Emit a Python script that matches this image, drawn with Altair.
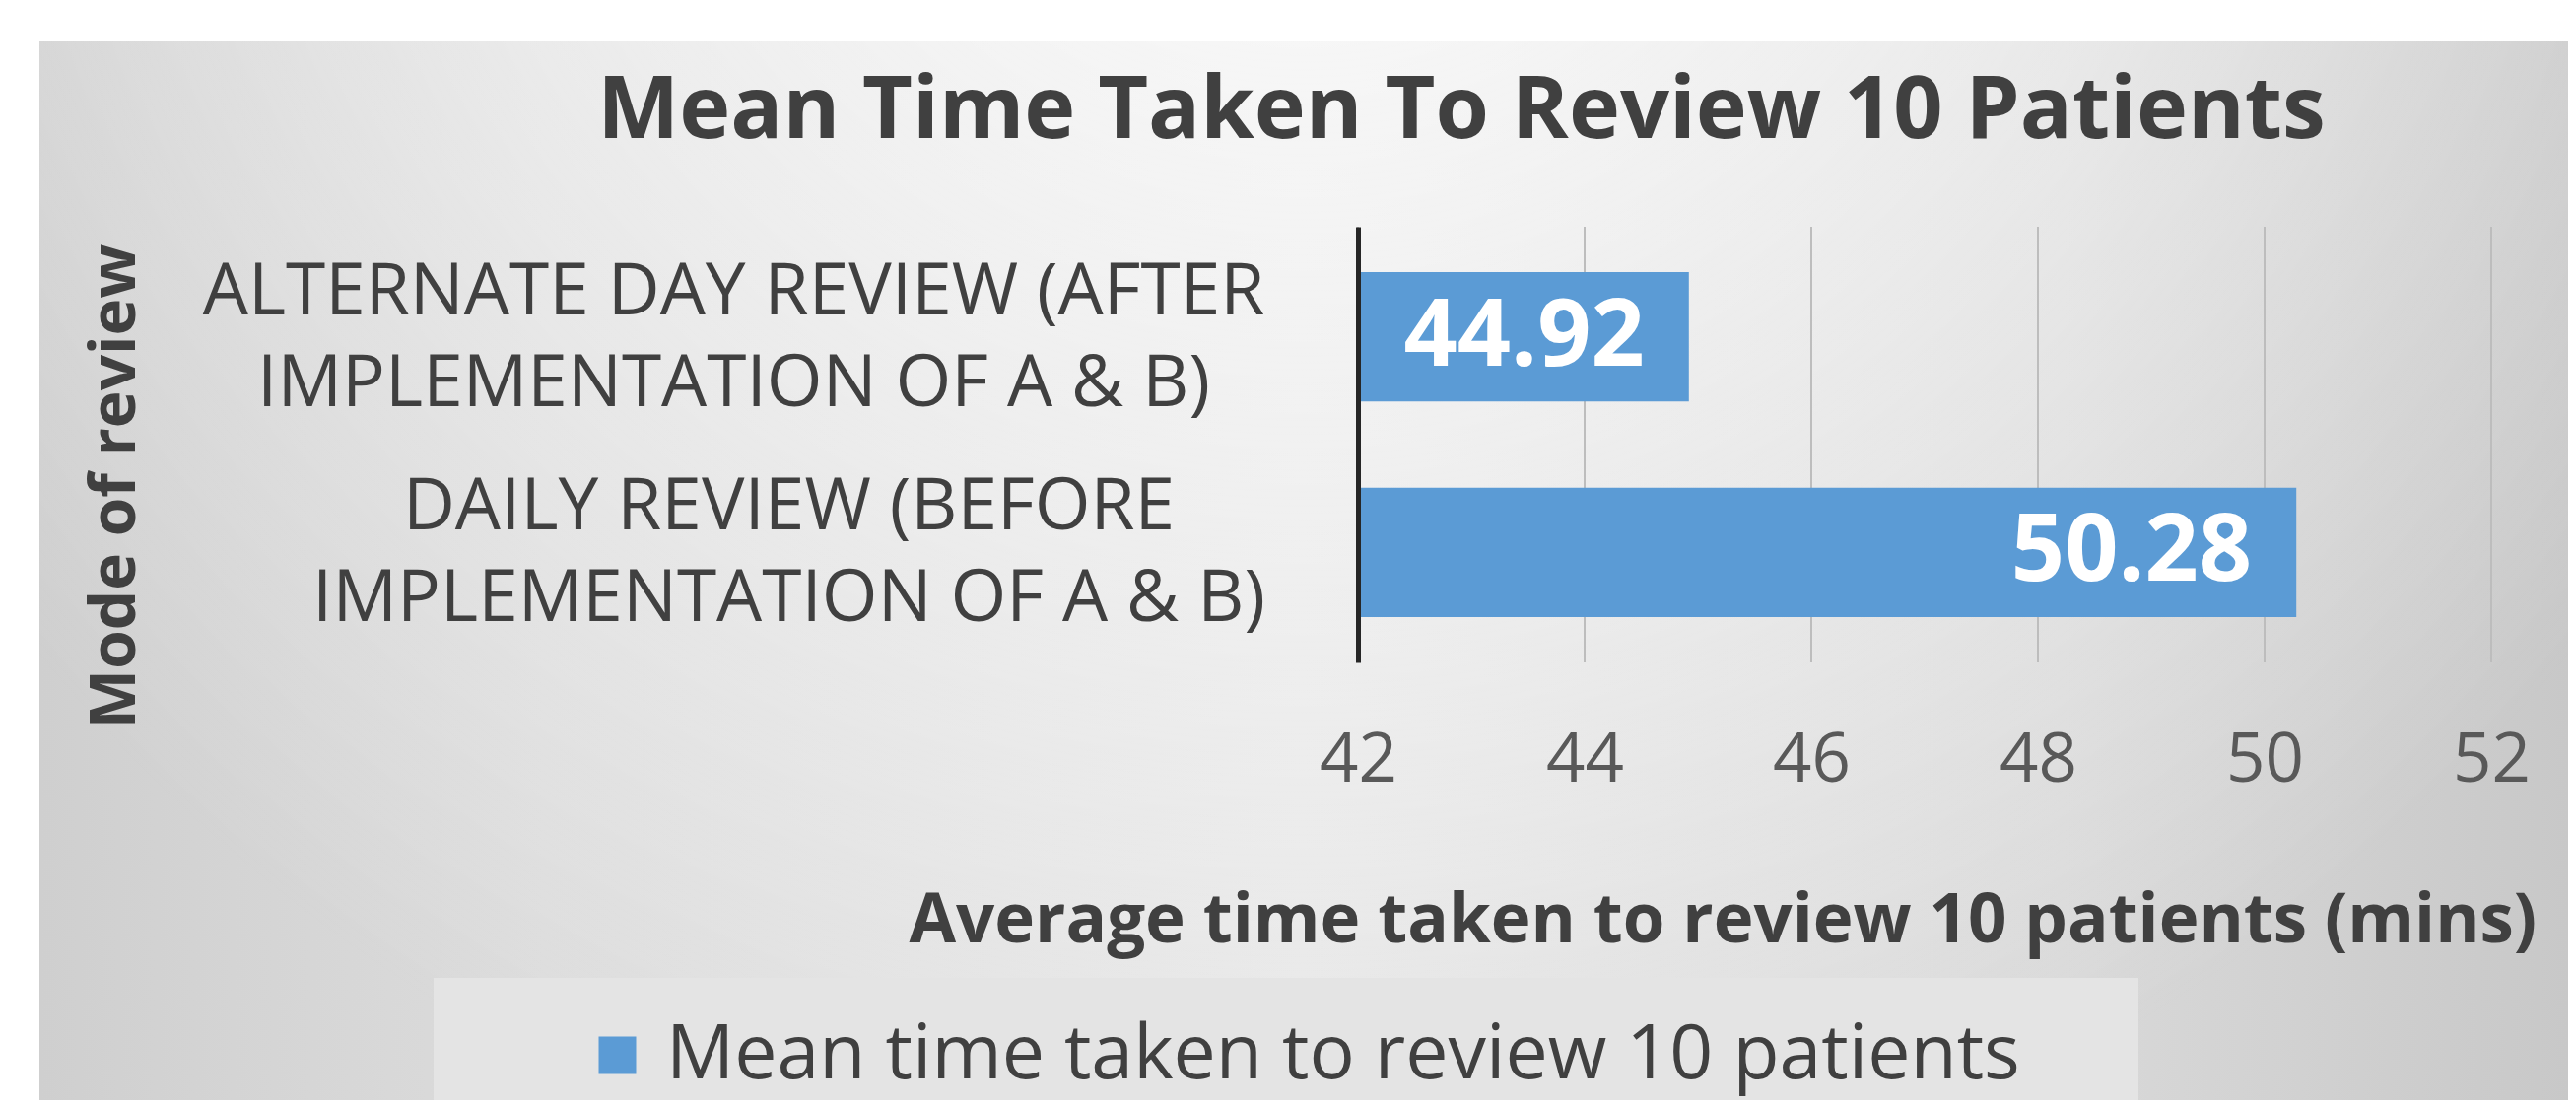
import json
import altair as alt
import pandas as pd

# ---- data ----
categories = [
    "ALTERNATE DAY REVIEW (AFTER\nIMPLEMENTATION OF A & B)",
    "DAILY REVIEW (BEFORE\nIMPLEMENTATION OF A & B)",
]
values = [44.92, 50.28]
series_name = "Mean time taken to review 10 patients"
x_ticks = [42, 44, 46, 48, 50, 52]
x_domain = [42, 52]

title_text = "Mean Time Taken To Review 10 Patients"
x_title = "Average time taken to review 10 patients (mins)"
y_title = "Mode of review"

df = pd.DataFrame({
    "mode": categories,
    "time": values,
    "series": [series_name] * len(categories),
})
grid_df = pd.DataFrame({"tick": x_ticks})
bg_df = pd.DataFrame({"bg": [0]})

FONT = "Open Sans"
BAR_COLOR = "#5b9bd5"
TEXT_DARK = "#404040"

# ---- background (Office-style gradient) ----
base_grad = alt.LinearGradient(
    gradient="linear", x1=0, y1=0, x2=1, y2=0,
    stops=[
        alt.GradientStop(offset=0, color="#cfcfcf"),
        alt.GradientStop(offset=0.2, color="#dcdcdc"),
        alt.GradientStop(offset=0.5, color="#e6e6e6"),
        alt.GradientStop(offset=0.8, color="#d9d9d9"),
        alt.GradientStop(offset=1, color="#c8c8c8"),
    ],
)
glow_grad = alt.RadialGradient(
    gradient="radial", x1=0.5, y1=0.12, r1=0, x2=0.5, y2=0.12, r2=0.65,
    stops=[
        alt.GradientStop(offset=0, color="rgba(255,255,255,0.9)"),
        alt.GradientStop(offset=0.5, color="rgba(255,255,255,0.45)"),
        alt.GradientStop(offset=1, color="rgba(255,255,255,0)"),
    ],
)
bg_enc = dict(x=alt.value(-1338), x2=alt.value(1228), y=alt.value(-188), y2=alt.value(886))
bg1 = alt.Chart(bg_df).mark_rect(fill=base_grad, strokeWidth=0).encode(**bg_enc)
bg2 = alt.Chart(bg_df).mark_rect(fill=glow_grad, strokeWidth=0).encode(**bg_enc)

# ---- axes ----
y_axis = alt.Axis(
    title=y_title,
    titleFont=FONT, titleFontSize=64, titleFontWeight="bold", titleColor=TEXT_DARK,
    titleAngle=270, titleX=-1261, titleY=263, titleAlign="center", titleBaseline="middle",
    labelExpr="split(datum.label, '\\n')",
    labelFont=FONT, labelFontSize=73, labelColor=TEXT_DARK,
    labelAlign="center", labelBaseline="middle", labelLineHeight=93, labelLimit=3000,
    labelOffset=-45,
    labelPadding={"condition": {"test": f"datum.value == {json.dumps(categories[0])}", "value": 634},
                  "value": 578},
    ticks=False, tickSize=0,
    domain=True, domainColor="#262626", domainWidth=5,
    grid=False, zindex=1,
)
x_axis = alt.Axis(
    title=x_title,
    titleFont=FONT, titleFontSize=69, titleFontWeight="bold", titleColor=TEXT_DARK,
    titleX=-456, titleY=283, titleAlign="left", titleBaseline="alphabetic", titleAnchor="start",
    values=x_ticks, format="d",
    labelFont=FONT, labelFontSize=69, labelColor="#595959",
    labelBaseline="alphabetic", labelPadding=120, labelFlush=False,
    ticks=False, tickSize=0, domain=False,
    grid=False, zindex=1,
)

x_scale = alt.Scale(domain=x_domain, zero=False, nice=False)

gridlines = alt.Chart(grid_df).mark_rule(color="#bdbdbd", strokeWidth=2).encode(
    x=alt.X("tick:Q", scale=x_scale, axis=x_axis),
)

bars = alt.Chart(df).mark_bar().encode(
    x=alt.X("time:Q", scale=x_scale, axis=x_axis),
    x2=alt.datum(x_domain[0]),
    y=alt.Y("mode:N", sort=categories,
            scale=alt.Scale(paddingInner=0.4, paddingOuter=0.21), axis=y_axis),
    color=alt.Color(
        "series:N",
        scale=alt.Scale(range=[BAR_COLOR]),
        legend=alt.Legend(
            title=" ", titleOrient="right", titlePadding=80, titleFontSize=20,
            orient="none", legendX=-938, legendY=762, direction="horizontal",
            symbolType="square", symbolSize=1444, symbolStrokeWidth=0, symbolOffset=108,
            labelOffset=11, labelFont=FONT, labelFontSize=77, labelColor=TEXT_DARK,
            labelLimit=3000, padding=40, fillColor="#e4e4e4",
        ),
    ),
)

labels = alt.Chart(df).mark_text(
    align="right", baseline="middle", dx=-45,
    font=FONT, fontSize=95, fontWeight="bold", color="white",
).encode(
    x=alt.X("time:Q"),
    y=alt.Y("mode:N", sort=categories),
    text=alt.Text("time:Q", format=".2f"),
)

chart = alt.layer(bg1, bg2, gridlines, bars, labels).properties(
    width=1150,
    height=442,
    autosize=alt.AutoSizeParams(type="none"),
    padding={"left": 1370, "top": 222, "right": 78, "bottom": 444},
    background="white",
    title=alt.TitleParams(
        text=title_text, font=FONT, fontSize=88, fontWeight="bold", color=TEXT_DARK,
        anchor="middle", frame="group", dx=-470, dy=83, offset=-103, baseline="alphabetic",
    ),
).configure_view(strokeWidth=0)

chart.save("out.html", embed_options={"renderer": "svg", "actions": False})
